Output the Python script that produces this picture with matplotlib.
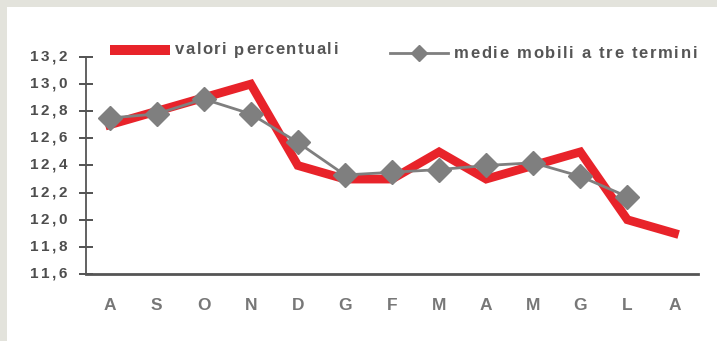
import matplotlib.pyplot as plt
import numpy as np
from matplotlib.lines import Line2D
from matplotlib.patches import Rectangle
from matplotlib.font_manager import FontProperties, findfont, get_font

mesi = ['A', 'S', 'O', 'N', 'D', 'G', 'F', 'M', 'A', 'M', 'G', 'L', 'A']
valori = [12.7, 12.8, 12.9, 13.0, 12.4, 12.3, 12.3, 12.5, 12.3, 12.4, 12.5, 12.0, 11.9]
medie = [12.75, 12.78, 12.89, 12.78, 12.57, 12.33, 12.35, 12.37, 12.40, 12.42, 12.32, 12.17, np.nan]
yticks = [11.6, 11.8, 12.0, 12.2, 12.4, 12.6, 12.8, 13.0, 13.2]

rosso = '#e8232a'
grigio = '#7f7f7f'
testo = '#555555'

W, H = 717, 341
fam = ['Liberation Sans Narrow', 'Liberation Sans', 'DejaVu Sans']
plt.rcParams['font.family'] = fam

fig = plt.figure(figsize=(W / 100, H / 100), dpi=100)
fig.patch.set_facecolor('#e3e3dc')
# white panel, leaving a thin grey strip on the top and left
fig.patches.append(Rectangle((7 / W, 0), 1, 1 - 7 / H, transform=fig.transFigure,
                             facecolor='white', edgecolor='none', zorder=-10))

ax = fig.add_axes([86 / W, 1 - 274 / H, (698 - 86) / W, (274 - 57) / H])
ax.set_facecolor('none')

x = np.arange(len(mesi))
ax.plot(x, valori, color=rosso, lw=6.3, solid_joinstyle='miter', zorder=2)
ax.plot(x, medie, color=grigio, lw=2, marker='D', ms=12.5, mfc=grigio, mec=grigio, zorder=3)

ax.set_xlim(-0.5, len(mesi) - 0.5)
ax.set_ylim(11.6, 13.2)
ax.set_xticks(x)
ax.set_xticklabels(mesi, fontweight='bold')
ax.set_yticks(yticks)
ax.set_yticklabels([])
ax.tick_params(axis='x', length=0, pad=17, labelsize=12.5, labelcolor='#777777')
ax.tick_params(axis='y', direction='inout', length=10, width=1.3, color='#444444')
for s in ['top', 'right']:
    ax.spines[s].set_visible(False)
for s in ['left', 'bottom']:
    ax.spines[s].set_color('#555555')
ax.spines['left'].set_linewidth(1.3)
ax.spines['bottom'].set_linewidth(2)


def spaced(s, x0, x1, y, size, weight='normal', **kw):
    """Write s letter by letter so that it fills the span x0..x1 (pixels)."""
    font = get_font(findfont(FontProperties(family=fam, size=size, weight=weight)))
    font.set_size(size, 100)
    adv = []
    for c in s:
        g = font.load_char(ord(c))
        adv.append(g.linearHoriAdvance / 65536)
    extra = (x1 - x0 - sum(adv)) / max(len(s) - 1, 1)
    pos = x0
    for c, a in zip(s, adv):
        fig.text(pos / W, 1 - y / H, c, fontsize=size, fontweight=weight,
                 va='center', ha='left', **kw)
        pos += a + extra


# y tick labels with wide letter spacing
for v in yticks:
    ypix = 274 - (v - 11.6) / 1.6 * (274 - 57)
    spaced(f'{v:.1f}'.replace('.', ','), 30, 67, ypix, 11, 'bold', color='#4d4d4d')

# legend drawn by hand above the plot area
fig.add_artist(Line2D([110 / W, 170 / W], [1 - 50 / H] * 2, color=rosso, lw=7.2,
                      solid_capstyle='butt', transform=fig.transFigure))
spaced('valori percentuali', 175, 338, 50, 12, 'bold', color=testo)
fig.add_artist(Line2D([390 / W, 448 / W], [1 - 53 / H] * 2, color=grigio, lw=2,
                      transform=fig.transFigure))
fig.add_artist(Line2D([419 / W], [1 - 53 / H], color=grigio, marker='D', ms=8,
                      transform=fig.transFigure))
spaced('medie mobili a tre termini', 454, 697, 53, 12, 'bold', color=testo)

fig.savefig('out.png', dpi=100, facecolor=fig.get_facecolor())
